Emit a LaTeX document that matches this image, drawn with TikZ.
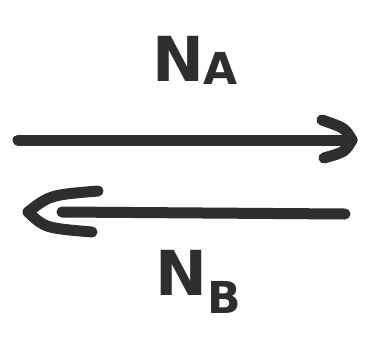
\documentclass[tikz,border=0pt]{standalone}
\usepackage{fontspec}
\setmainfont{DejaVu Sans}
\usetikzlibrary{arrows.meta}
\definecolor{ink}{HTML}{2E2E2E}
\tikzset{
  marker/.style={draw=ink, line width=11pt, line cap=round, line join=round},
  lbl/.style={text=ink, font=\bfseries\fontsize{62}{62}\selectfont}
}
\begin{document}
\begin{tikzpicture}[x=1pt,y=-1pt]
\useasboundingbox[fill=white] (0,0) rectangle (383,349);
\node[lbl] (na) at (195,60) {N\raisebox{-0.05em}{\fontsize{44}{44}\selectfont A}};
\node[lbl] (nb) at (198,282) {N\raisebox{-0.3em}{\fontsize{44}{44}\selectfont B}};
\coordinate (r1) at (18,140);
\coordinate (r2) at (352,140);
\coordinate (l1) at (345,214);
\coordinate (l2) at (28,212);
\draw[marker] (r1) -- (r2);
\draw[marker] (322,120) .. controls (345,128) .. (r2) .. controls (345,152) .. (324,158);
\draw[marker] (l1) -- (62,212);
\draw[marker] (98,191) .. controls (50,195) .. (l2) .. controls (45,228) .. (92,232);
\end{tikzpicture}
\end{document}
